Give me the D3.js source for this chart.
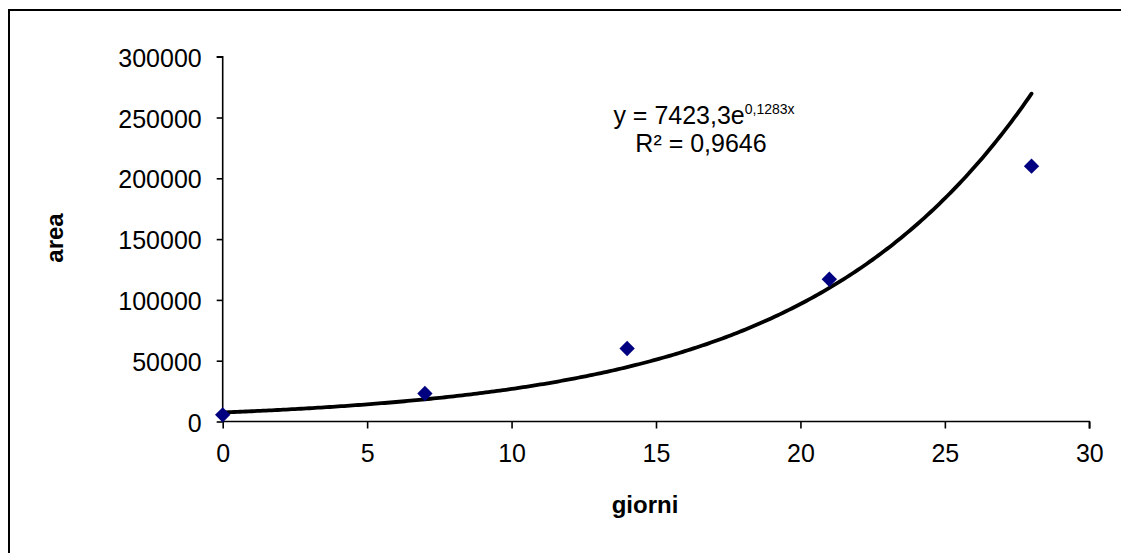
<!DOCTYPE html>
<html>
<head>
<meta charset="utf-8">
<script src="https://cdn.jsdelivr.net/npm/d3@7"></script>
<style>
  html, body { margin: 0; padding: 0; background: #fff; overflow: hidden; }
  svg { display: block; font-family: "Liberation Sans", Arial, sans-serif; }
</style>
</head>
<body>
<svg id="chart" width="1121" height="553"></svg>
<script>
// Data
const days = [0, 7, 14, 21, 28];
const areas = [5500, 23000, 60000, 117000, 210000];
const xTicks = [0, 5, 10, 15, 20, 25, 30];
const yTicks = [0, 50000, 100000, 150000, 200000, 250000, 300000];
const fitA = 7423.3;
const fitB = 0.1283;
const fitLines = ["y = 7423,3e", "0,1283x", "R² = 0,9646"];
const xTitle = "giorni";
const yTitle = "area";

const svg = d3.select("#chart");
const W = 1121, H = 553;

// outer chart border: only the top and left edges lie inside the picture
svg.append("path").attr("d", `M9,${H + 5}V10H${W + 5}`)
  .attr("fill", "none").attr("stroke", "#000").attr("stroke-width", 2);

const x = d3.scaleLinear().domain([0, 30]).range([222.7, 1089.3]);
const y = d3.scaleLinear().domain([0, 300000]).range([421.5, 56.7]);

// axes
const xAxis = svg.append("g").attr("transform", `translate(0,${y(0)})`)
  .call(d3.axisBottom(x).tickValues(xTicks).tickSize(7).tickPadding(16).tickFormat(d3.format("d")));
const yAxis = svg.append("g").attr("transform", `translate(${x(0)},0)`)
  .call(d3.axisLeft(y).tickValues(yTicks).tickSize(6).tickPadding(15).tickFormat(d3.format("d")));

[xAxis, yAxis].forEach(g => {
  g.select(".domain").attr("stroke", "#000").attr("stroke-width", 1.6);
  g.selectAll(".tick line").attr("stroke", "#000").attr("stroke-width", 1.6);
  g.selectAll(".tick text").attr("fill", "#000").style("font-size", "25px")
    .style("font-family", '"Liberation Sans", Arial, sans-serif');
});
xAxis.select(".domain").attr("d", `M${x(0)},0H${x(30)}V7`);
yAxis.select(".domain").attr("d", `M0,${y(0)}V${y(300000)}H-6`);
yAxis.selectAll(".tick text").attr("dy", "0.38em");

// trend curve
const curveX = d3.range(0, 28.001, 0.1);
const line = d3.line().x(d => x(d)).y(d => y(fitA * Math.exp(fitB * d)));
svg.append("path").datum(curveX).attr("d", line)
  .attr("fill", "none").attr("stroke", "#000").attr("stroke-width", 3.8)
  .attr("stroke-linejoin", "round").attr("stroke-linecap", "round");

// data points (diamonds)
const sym = d3.symbol().type(d3.symbolDiamond2).size(150);
svg.append("g").selectAll("path").data(days).join("path")
  .attr("d", sym)
  .attr("transform", (d, i) => `translate(${x(d)},${y(areas[i])})`)
  .attr("fill", "#000080");

// equation annotation
const ann = svg.append("text").attr("x", 704).attr("y", 124).attr("text-anchor", "middle")
  .style("font-size", "25px").attr("fill", "#000");
ann.append("tspan").text(fitLines[0]);
ann.append("tspan").text(fitLines[1]).style("font-size", "14px").attr("dy", -10);
svg.append("text").attr("x", 701).attr("y", 152).attr("text-anchor", "middle")
  .style("font-size", "25px").attr("fill", "#000").text(fitLines[2]);

// axis titles
svg.append("text").attr("x", 645).attr("y", 513).attr("text-anchor", "middle")
  .style("font-size", "24px").style("font-weight", "bold").text(xTitle);
svg.append("text").attr("transform", "translate(63,238) rotate(-90)").attr("text-anchor", "middle")
  .style("font-size", "24px").style("font-weight", "bold").text(yTitle);
</script>
</body>
</html>
